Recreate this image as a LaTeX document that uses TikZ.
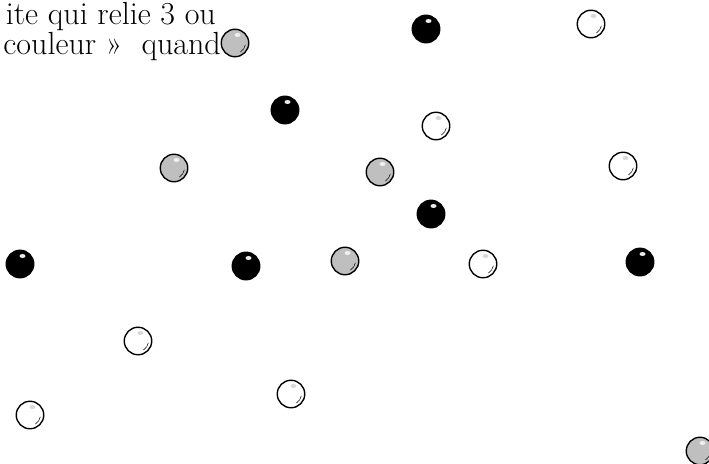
\documentclass[tikz,border=0pt]{standalone}
\usepackage{fontspec}

\newcommand{\ballshine}[2]{%
  \fill[#1] ([shift={(2.5pt,8pt)}]path picture bounding box.center) ellipse (3pt and 2pt);
  \draw[#2, line width=0.5pt] ([shift={(-10:10.5pt)}]path picture bounding box.center)
    arc[start angle=-10, end angle=-60, radius=10.5pt];}

\tikzset{
  ball/.style={circle, draw, line width=1.4pt, minimum size=27.5pt, inner sep=0pt},
  blackball/.style={ball, fill=black, path picture={\ballshine{black!8}{black}}},
  whiteball/.style={ball, fill=white, path picture={\ballshine{black!15}{black}}},
  grayball/.style={ball, fill=black!25, path picture={\ballshine{black!6}{black}}},
  cuttext/.style={anchor=base east, inner sep=0pt, font=\fontsize{32}{30}\selectfont}
}

\begin{document}
\begin{tikzpicture}[x=1pt, y=1pt]
\useasboundingbox (0,0) rectangle (709,-463);
\clip (0,0) rectangle (709,-463);

% cut-off text in the corner
\node[cuttext] (line1) at (216,-24) {ite qui relie 3 ou};
\node[cuttext] (line2) at (221,-54) {couleur »\ \ quand};

% black balls
\node[blackball] (k1) at (426,-29) {};
\node[blackball] (k2) at (285,-110) {};
\node[blackball] (k3) at (431,-214) {};
\node[blackball] (k4) at (20,-264) {};
\node[blackball] (k5) at (246,-266) {};
\node[blackball] (k6) at (640,-262) {};

% white balls
\node[whiteball] (w1) at (591,-24) {};
\node[whiteball] (w2) at (436,-126) {};
\node[whiteball] (w3) at (623,-166) {};
\node[whiteball] (w4) at (483,-264) {};
\node[whiteball] (w5) at (138,-341) {};
\node[whiteball] (w6) at (291,-394) {};
\node[whiteball] (w7) at (30,-415) {};

% gray balls
\node[grayball] (g1) at (235,-43) {};
\node[grayball] (g2) at (174,-168) {};
\node[grayball] (g3) at (380,-172) {};
\node[grayball] (g4) at (345,-261) {};
\node[grayball] (g5) at (700,-451) {};
\end{tikzpicture}
\end{document}
